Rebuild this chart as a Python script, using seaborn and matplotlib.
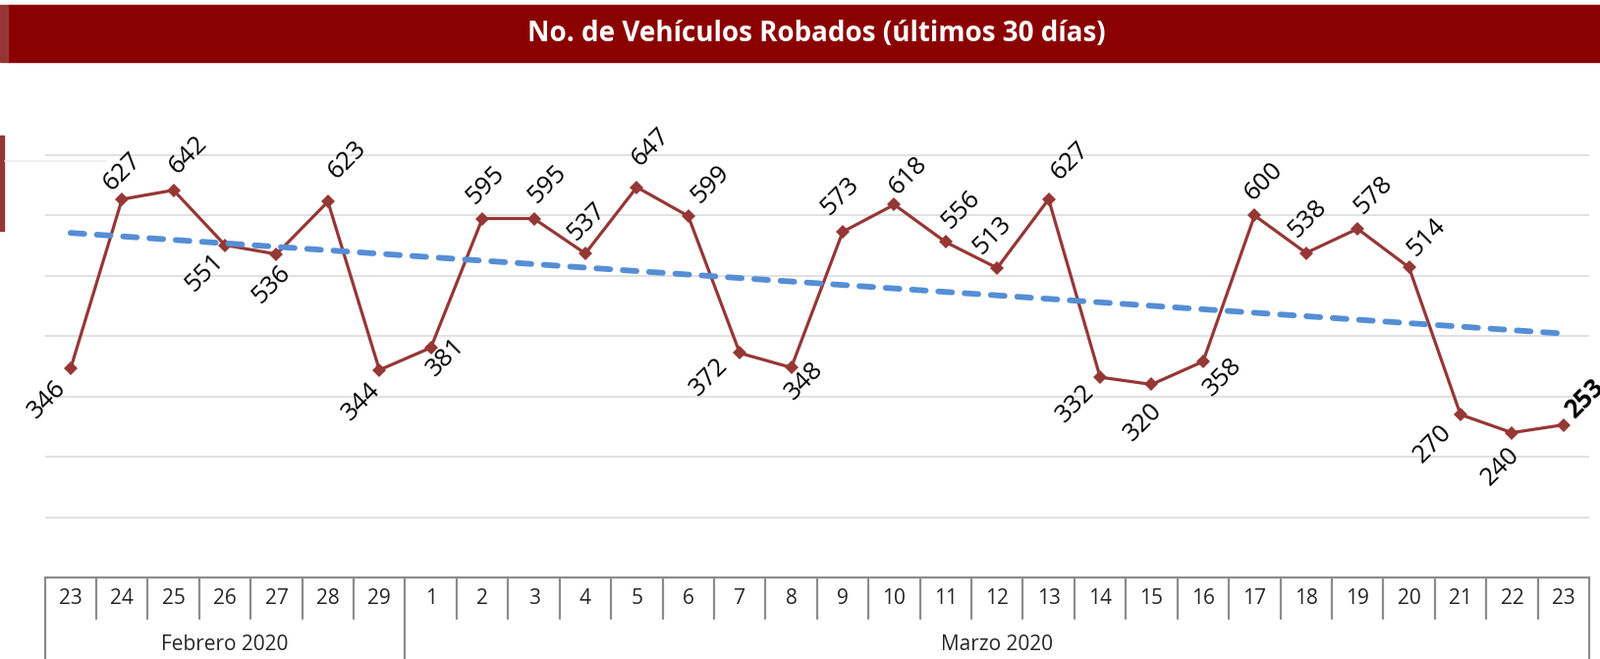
import numpy as np
import pandas as pd
import matplotlib
matplotlib.use("Agg")
import matplotlib.pyplot as plt
import matplotlib.transforms as mtransforms
from matplotlib.patches import Rectangle
import seaborn as sns

# datos: vehiculos robados por dia (23 feb - 23 mar 2020)
dias = ["23", "24", "25", "26", "27", "28", "29",
        "1", "2", "3", "4", "5", "6", "7", "8", "9", "10", "11", "12", "13",
        "14", "15", "16", "17", "18", "19", "20", "21", "22", "23"]
robos = [346, 627, 642, 551, 536, 623, 344, 381, 595, 595, 537, 647, 599, 372, 348,
         573, 618, 556, 513, 627, 332, 320, 358, 600, 538, 578, 514, 270, 240, 253]
meses = ["Febrero 2020", "Marzo 2020"]
dias_por_mes = [7, 23]
titulo = "No. de Vehículos Robados (últimos 30 días)"

# desplazamiento de cada etiqueta (px, y hacia abajo), como en el original
offs = [(-24, 31), (0, -28), (15, -36), (-21, 28), (-5, 31), (20, -42), (-19, 32),
        (15, 10), (3, -34), (14, -35), (1, -32), (14, -41), (23, -32), (-31, 24),
        (13, 14), (-3, -36), (14, -30), (16, -33), (-5, -33), (22, -39), (-25, 27),
        (-9, 38), (20, 16), (9, -35), (2, -35), (16, -34), (18, -30), (-28, 30),
        (-12, 34), (22, -27)]

df = pd.DataFrame({"idx": np.arange(len(robos)), "robos": robos})

sns.set_style("white")
plt.rcParams["font.family"] = ["Open Sans", "DejaVu Sans"]

W, H = 1629, 671
fig = plt.figure(figsize=(W / 100, H / 100), dpi=100)

def fx(px):
    return px / W

def fy(py):
    return 1 - py / H

ax_left, ax_right, ax_top, ax_bot = 45.6, 1618, 96.6, 588
ax = fig.add_axes([fx(ax_left), fy(ax_bot), fx(ax_right - ax_left), (ax_bot - ax_top) / H])

red = "#953735"
sns.lineplot(data=df, x="idx", y="robos", ax=ax, color=red, linewidth=2.3,
             marker="D", markersize=7.5, markeredgewidth=0, zorder=3)
sns.regplot(data=df, x="idx", y="robos", ax=ax, scatter=False, ci=None, truncate=True,
            line_kws={"color": "#558ED5", "lw": 4.2, "linestyle": (0, (2.4, 2.2)),
                      "dash_capstyle": "round", "zorder": 4})

for i, v in enumerate(robos):
    dx, dy = offs[i]
    ultimo = i == len(robos) - 1
    ax.annotate(str(v), (i, v), xytext=(dx * 0.72, -dy * 0.72), textcoords="offset points",
                ha="center", va="center", rotation=45, rotation_mode="anchor",
                fontsize=18.5, color="black", fontweight="bold" if ultimo else "normal",
                annotation_clip=False, zorder=5)

ax.set_xlim(-0.5, len(robos) - 0.5)
ax.set_ylim(0, 800)
ax.set_yticks(range(100, 800, 100))
ax.yaxis.grid(True, color="#d9d9d9", lw=1.1)
ax.tick_params(axis="y", left=False, labelleft=False)
ax.set_xticks(range(len(dias)))
ax.set_xticklabels(dias, fontsize=15, color="#262626")
ax.tick_params(axis="x", length=0, pad=8)
ax.set_xlabel("")
ax.set_ylabel("")
for s in ["top", "left", "right"]:
    ax.spines[s].set_visible(False)
ax.spines["bottom"].set_color("#8c8c8c")
ax.spines["bottom"].set_linewidth(1.6)

# tabla de categorias bajo el eje
tr = mtransforms.blended_transform_factory(ax.transData, fig.transFigure)
cortes = np.cumsum([0] + dias_por_mes) - 0.5
for k in range(len(dias) + 1):
    xk = k - 0.5
    if xk in cortes:
        y2 = fy(H + 5)
    else:
        y2 = fy(630)
    ax.plot([xk, xk], [fy(ax_bot), y2], transform=tr, color="#8c8c8c", lw=1.6, clip_on=False)
for m, a, b in zip(meses, cortes[:-1], cortes[1:]):
    ax.text((a + b) / 2, fy(657), m, transform=tr, ha="center", va="center",
            fontsize=15, color="#262626")

# banda de titulo
fig.patches.append(Rectangle((fx(8), fy(63)), 1 - fx(8), (63 - 5) / H,
                             transform=fig.transFigure, color="#8B0000", zorder=0))
fig.patches.append(Rectangle((0, fy(63)), fx(8), (63 - 5) / H,
                             transform=fig.transFigure, color="#963634", zorder=0))
fig.text(fx(831), fy(35), titulo, ha="center", va="center", color="white",
         fontsize=20, fontweight="bold")

# restos del tablero a la izquierda
fig.patches.append(Rectangle((0, fy(235)), fx(4), (235 - 138) / H,
                             transform=fig.transFigure, color=red, zorder=0))
fig.lines.append(plt.Line2D([fx(5), fx(108)], [fy(164), fy(164)], transform=fig.transFigure,
                            color="#ededed", lw=1.2))

fig.savefig("out.png", dpi=100)
